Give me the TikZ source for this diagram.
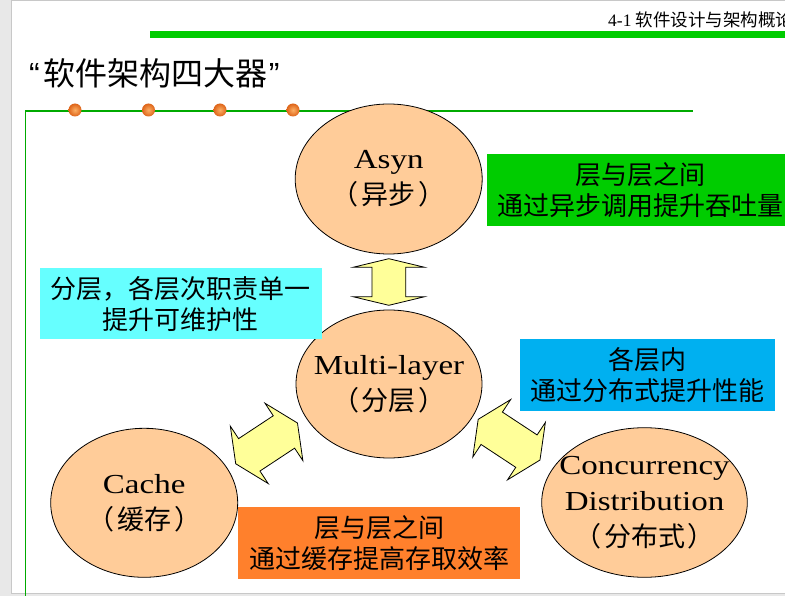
\documentclass[tikz,border=0pt]{standalone}
\usepackage{fontspec}
\setmainfont{Liberation Serif}
\newfontfamily\latwide[FakeStretch=1.2]{Liberation Serif}
\newfontfamily\cjk{Noto Sans CJK SC}
\newfontfamily\quotefont{Liberation Sans}
\usetikzlibrary{shapes.geometric,shapes.arrows,calc}
\definecolor{peach}{RGB}{255,204,153}
\definecolor{arrowyellow}{RGB}{255,255,153}
\definecolor{barGreen}{RGB}{0,204,0}
\definecolor{lineGreen}{RGB}{0,170,0}
\definecolor{boxCyan}{RGB}{102,255,255}
\definecolor{boxBlue}{RGB}{0,176,240}
\definecolor{boxOrange}{RGB}{255,128,44}
\definecolor{dotLight}{RGB}{252,175,100}
\definecolor{dotDark}{RGB}{222,100,25}
\definecolor{slideGrey}{RGB}{232,232,232}
\definecolor{edgeGrey}{RGB}{200,200,200}
\newcommand\bubblezh[1]{{\cjk\fontsize{27}{36}\selectfont #1}}

\begin{document}
\begin{tikzpicture}[x=1pt,y=-1pt] % координаты как на слайде
\tikzstyle{mybubble} = [ellipse, draw, fill=peach, line width=0.8pt, inner xsep=-110pt, inner ysep=-70pt, align=center, font=\latwide\fontsize{27.5}{36}\selectfont] % ellipse style
\tikzstyle{mynote} = [rectangle, inner sep=0pt, align=center, minimum width=281.7pt, minimum height=71pt, font=\cjk\fontsize{26}{31}\selectfont] % note box style
\tikzstyle{mybiarrow} = [double arrow, draw, fill=arrowyellow, line width=0.8pt, inner xsep=0pt] % двойная стрелка
\tikzstyle{mydot} = [circle, minimum size=13pt, inner sep=0pt, shading=radial, inner color=dotLight, outer color=dotDark] % маркер на линии

\useasboundingbox (0,0) rectangle (785,596);
\clip (0,0) rectangle (785,596);
\fill[slideGrey] (0,0) rectangle (785,596); % фон вокруг слайда
\filldraw[fill=white, draw=edgeGrey] (11.5,0.7) rectangle (800,593.5);

\fill[barGreen] (150,30.7) rectangle (790,37.7);
\node[anchor=west, inner sep=0pt, font=\fontsize{17.5}{20}\selectfont] (header) at (608,19.5) {4-1 {\cjk 软件设计与架构概论}};
\node[anchor=west, inner sep=0pt, font=\cjk\fontsize{32}{36}\selectfont] (title) at (29,73) {{\quotefont “}\kern4pt软件架构四大器\kern1pt{\quotefont ”}};
\draw[lineGreen, line width=1.2pt] (692.5,111) -- (25.7,111) -- (25.7,600);
\foreach \x [count=\i] in {75,148.5,220,293}
    \node[mydot] (dot\i) at (\x,110) {};

\node[mybubble, minimum width=187pt, minimum height=150pt] (asyn) at (388.7,179) {Asyn\\\bubblezh{（\kern3pt异步\kern3pt）}};
\node[mybubble, minimum width=186pt, minimum height=148pt] (layer) at (389,384) {Multi-layer\\\bubblezh{（\kern3pt分层\kern3pt）}};
\node[mybubble, minimum width=187pt, minimum height=149pt] (cache) at (144.2,502.8) {Cache\\\bubblezh{（\kern3pt缓存\kern3pt）}};
\node[mybubble, minimum width=205.6pt, minimum height=149.6pt] (conc) at (644.5,502.5) {Concurrency\\Distribution\\\bubblezh{（\kern3pt分布式\kern3pt）}};

\node[mybiarrow, rotate=90, inner ysep=16.5pt, minimum height=46.6pt, double arrow head extend=18.5pt, double arrow tip angle=153] (a-up) at ($(asyn.south)!0.5!(layer.north)$) {};
\node[mybiarrow, rotate=33.4, inner ysep=19pt, minimum height=74pt, double arrow head extend=15pt, double arrow tip angle=129.5] (a-left) at ($(layer)!0.5!(cache)$) {};
\node[mybiarrow, rotate=-33.4, inner ysep=19pt, minimum height=74pt, double arrow head extend=15pt, double arrow tip angle=129.5] (a-right) at ($(layer)!0.47!(conc)$) {};

\node[mynote, fill=barGreen, minimum width=306pt, minimum height=72pt] (n-asyn) at (640,190) {层与层之间\\通过异步调用提升吞吐量};
\node[mynote, fill=boxCyan, minimum height=70.7pt] (n-layer) at (180.8,303.7) {分层，各层次职责单一\\提升可维护性};
\node[mynote, fill=boxBlue, minimum width=255pt, minimum height=71.4pt] (n-conc) at (647.5,375) {各层内\\通过分布式提升性能};
\node[mynote, fill=boxOrange, minimum height=71.7pt] (n-cache) at (379.2,543.2) {层与层之间\\通过缓存提高存取效率};
\end{tikzpicture}
\end{document}
